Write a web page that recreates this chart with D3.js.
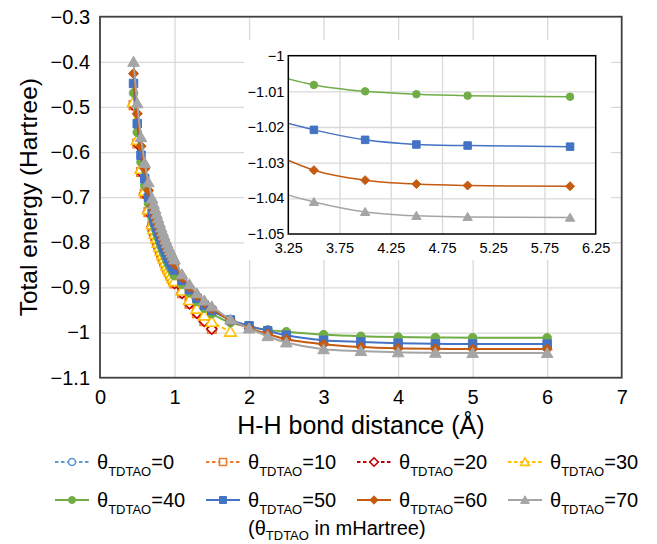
<!DOCTYPE html>
<html><head><meta charset="utf-8">
<script src="https://cdn.jsdelivr.net/npm/d3@7"></script>
<style>
body{margin:0;background:#fff}
svg{display:block}
text{font-family:"Liberation Sans",Arial,sans-serif;fill:#000}
</style>
</head><body>
<svg id="c" width="657" height="544"></svg>
<script>
// ---------- DATA ----------
const distance = [0.45,0.5,0.55,0.6,0.65,
  0.70,0.72,0.74,0.76,0.78,0.80,0.82,0.84,0.86,0.88,0.90,0.92,0.94,0.96,0.98,1.00,
  1.1,1.2,1.3,1.4,1.5,1.75,2,2.25,2.5,3,3.5,4,4.5,5,6];

const theta = [0,10,20,30,40,50,60,70];

const energy0  = [-0.496,-0.581,-0.644,-0.692,-0.733,
  -0.765,-0.776,-0.786,-0.796,-0.806,-0.815,-0.824,-0.833,-0.841,-0.849,-0.857,-0.864,-0.871,-0.878,-0.885,-0.891,
  -0.913,-0.936,-0.957,-0.975,-0.992];
const energy10 = [-0.496,-0.581,-0.644,-0.692,-0.733,
  -0.765,-0.776,-0.786,-0.796,-0.806,-0.815,-0.824,-0.833,-0.841,-0.849,-0.857,-0.864,-0.871,-0.878,-0.885,-0.891,
  -0.913,-0.936,-0.957,-0.975,-0.992];
const energy20 = [-0.496,-0.581,-0.644,-0.692,-0.733,
  -0.765,-0.776,-0.786,-0.796,-0.806,-0.815,-0.824,-0.833,-0.841,-0.849,-0.857,-0.864,-0.871,-0.878,-0.885,-0.891,
  -0.913,-0.936,-0.957,-0.975,-0.992];
const energy30 = [-0.489,-0.573,-0.637,-0.686,-0.727,
  -0.760,-0.771,-0.781,-0.791,-0.801,-0.810,-0.819,-0.828,-0.836,-0.844,-0.852,-0.859,-0.866,-0.873,-0.880,-0.886,
  -0.907,-0.928,-0.947,-0.962,-0.976,-0.998];
const energy40 = [-0.469,-0.556,-0.622,-0.674,-0.714,
  -0.748,-0.759,-0.770,-0.780,-0.790,-0.800,-0.809,-0.818,-0.826,-0.834,-0.842,-0.849,-0.856,-0.862,-0.868,-0.874,
  -0.893,-0.912,-0.931,-0.946,-0.958,-0.978,-0.987,-0.994,-0.998,-1.0045,-1.0082,-1.0100,-1.0108,-1.0112,-1.0115];
const energy50 = [-0.448,-0.537,-0.607,-0.659,-0.700,
  -0.735,-0.746,-0.757,-0.767,-0.777,-0.787,-0.796,-0.805,-0.813,-0.821,-0.829,-0.836,-0.843,-0.849,-0.855,-0.861,
  -0.884,-0.905,-0.924,-0.939,-0.951,-0.972,-0.985,-0.996,-1.006,-1.017,-1.0208,-1.0236,-1.0249,-1.0252,-1.0255];
const energy60 = [-0.426,-0.515,-0.587,-0.637,-0.685,
  -0.720,-0.731,-0.742,-0.752,-0.762,-0.772,-0.781,-0.790,-0.798,-0.806,-0.814,-0.821,-0.828,-0.835,-0.842,-0.848,
  -0.878,-0.899,-0.918,-0.934,-0.947,-0.973,-0.990,-1.003,-1.015,-1.026,-1.0321,-1.0349,-1.0360,-1.0364,-1.0366];
const energy70 = [-0.400,-0.492,-0.567,-0.624,-0.667,
  -0.703,-0.715,-0.726,-0.737,-0.747,-0.757,-0.767,-0.776,-0.785,-0.794,-0.802,-0.810,-0.817,-0.824,-0.831,-0.838,
  -0.871,-0.893,-0.913,-0.929,-0.942,-0.971,-0.991,-1.008,-1.022,-1.037,-1.0410,-1.0438,-1.0449,-1.0452,-1.0454];

const xTicks = [0,1,2,3,4,5,6,7];
const yTicks = [-0.3,-0.4,-0.5,-0.6,-0.7,-0.8,-0.9,-1,-1.1];
const insetXTicks = [3.25,3.75,4.25,4.75,5.25,5.75,6.25];
const insetYTicks = [-1,-1.01,-1.02,-1.03,-1.04,-1.05];

// ---------- STYLES ----------
const seriesStyle = [
  {color:"#5B9BD5", dash:true,  shape:"circle",   filled:false},
  {color:"#ED7D31", dash:true,  shape:"square",   filled:false},
  {color:"#C00000", dash:true,  shape:"diamond",  filled:false},
  {color:"#FFC000", dash:true,  shape:"triangle", filled:false},
  {color:"#70AD47", dash:false, shape:"circle",   filled:true},
  {color:"#4472C4", dash:false, shape:"square",   filled:true},
  {color:"#C55A11", dash:false, shape:"diamond",  filled:true},
  {color:"#A5A5A5", dash:false, shape:"triangle", filled:true}
];
const energies = [energy0,energy10,energy20,energy30,energy40,energy50,energy60,energy70];
const series = theta.map((t,i)=>({theta:t, style:seriesStyle[i],
  pts: energies[i].map((e,j)=>({x:distance[j], y:e}))}));

const FONT = '"Liberation Sans",Arial,sans-serif';
const svg = d3.select("#c");

function markerPath(shape, s){
  const h = s/2;
  if(shape==="square") return `M${-h},${-h}H${h}V${h}H${-h}Z`;
  if(shape==="diamond") return `M0,${-h*1.2}L${h*1.2},0L0,${h*1.2}L${-h*1.2},0Z`;
  if(shape==="triangle") return `M0,${-h*1.05}L${h*1.1},${h*0.85}L${-h*1.1},${h*0.85}Z`;
  return `M${h},0A${h},${h} 0 1,1 ${-h},0A${h},${h} 0 1,1 ${h},0Z`;
}
function drawMarker(g, st, x, y, s){
  g.append("path").attr("d", markerPath(st.shape, s))
    .attr("transform",`translate(${x},${y})`)
    .attr("fill", st.filled ? st.color : "#fff")
    .attr("stroke", st.color)
    .attr("stroke-width", st.filled ? 1 : 1.6);
}

// ---------- MAIN CHART ----------
const L=100, R=621.7, T=16.7, B=377.7;
const X = d3.scaleLinear().domain([0,7]).range([L,R]);
const Y = d3.scaleLinear().domain([-1.1,-0.3]).range([B,T]);

svg.append("g").attr("transform",`translate(0,${B})`)
  .call(d3.axisBottom(X).tickValues(xTicks.slice(1,-1)).tickSize(-(B-T)).tickFormat(""))
  .call(g=>g.select(".domain").remove())
  .call(g=>g.selectAll("line").attr("stroke","#D9D9D9").attr("stroke-width",1.3));
svg.append("g").attr("transform",`translate(${L},0)`)
  .call(d3.axisLeft(Y).tickValues(yTicks.slice(1,-1)).tickSize(-(R-L)).tickFormat(""))
  .call(g=>g.select(".domain").remove())
  .call(g=>g.selectAll("line").attr("stroke","#D9D9D9").attr("stroke-width",1.3));

svg.append("g").attr("transform",`translate(0,${B})`)
  .call(d3.axisBottom(X).tickValues(xTicks).tickSize(0).tickPadding(12).tickFormat(d3.format("~g")))
  .call(g=>g.select(".domain").remove())
  .call(g=>g.selectAll("text").attr("font-size",20).attr("font-family",FONT).attr("fill","#000"));
svg.append("g").attr("transform",`translate(${L},0)`)
  .call(d3.axisLeft(Y).tickValues(yTicks).tickSize(0).tickPadding(10).tickFormat(d3.format("~g")))
  .call(g=>g.select(".domain").remove())
  .call(g=>g.selectAll("text").attr("font-size",20).attr("font-family",FONT).attr("fill","#000"));

const line = d3.line().x(d=>X(d.x)).y(d=>Y(d.y)).curve(d3.curveCatmullRom.alpha(0.5));
const gS = svg.append("g");
series.forEach(s=>{
  const g = gS.append("g");
  g.append("path").attr("d", line(s.pts)).attr("fill","none")
    .attr("stroke", s.style.color).attr("stroke-width",2)
    .attr("stroke-dasharray", s.style.dash ? "4,3" : null);
  const size = s.style.shape==="triangle" ? 10.5 : 8.5;
  s.pts.forEach(p=>drawMarker(g, s.style, X(p.x), Y(p.y), size));
});

svg.append("rect").attr("x",L).attr("y",T).attr("width",R-L).attr("height",B-T)
  .attr("fill","none").attr("stroke","#404040").attr("stroke-width",1.8);

svg.append("text").attr("x",(L+R)/2).attr("y",434).attr("text-anchor","middle")
  .attr("font-size",25).text("H-H bond distance (Å)");
svg.append("text").attr("transform",`translate(37,${(T+B)/2}) rotate(-90)`)
  .attr("text-anchor","middle").attr("font-size",24.5).text("Total energy (Hartree)");

// ---------- INSET ----------
svg.append("rect").attr("x",244).attr("y",40).attr("width",367).attr("height",220).attr("fill","#fff");
const iL=288.3, iR=595.7, iT=55.7, iB=234;
const IX = d3.scaleLinear().domain([3.25,6.25]).range([iL,iR]);
const IY = d3.scaleLinear().domain([-1.05,-1]).range([iB,iT]);
svg.append("defs").append("clipPath").attr("id","ic")
  .append("rect").attr("x",iL).attr("y",iT).attr("width",iR-iL).attr("height",iB-iT);

svg.append("g").attr("transform",`translate(0,${iB})`)
  .call(d3.axisBottom(IX).tickValues(insetXTicks.slice(1,-1)).tickSize(-(iB-iT)).tickFormat(""))
  .call(g=>g.select(".domain").remove())
  .call(g=>g.selectAll("line").attr("stroke","#D9D9D9").attr("stroke-width",1.3));
svg.append("g").attr("transform",`translate(${iL},0)`)
  .call(d3.axisLeft(IY).tickValues(insetYTicks.slice(1,-1)).tickSize(-(iR-iL)).tickFormat(""))
  .call(g=>g.select(".domain").remove())
  .call(g=>g.selectAll("line").attr("stroke","#D9D9D9").attr("stroke-width",1.3));

svg.append("g").attr("transform",`translate(0,${iB})`)
  .call(d3.axisBottom(IX).tickValues(insetXTicks).tickSize(0).tickPadding(9).tickFormat(d3.format(".2f")))
  .call(g=>g.select(".domain").remove())
  .call(g=>g.selectAll("text").attr("font-size",14.5).attr("font-family",FONT).attr("fill","#000"));
svg.append("g").attr("transform",`translate(${iL},0)`)
  .call(d3.axisLeft(IY).tickValues(insetYTicks).tickSize(0).tickPadding(4).tickFormat(d3.format("~g")))
  .call(g=>g.select(".domain").remove())
  .call(g=>g.selectAll("text").attr("font-size",14.5).attr("font-family",FONT).attr("fill","#000"));

const iline = d3.line().x(d=>IX(d.x)).y(d=>IY(d.y)).curve(d3.curveCatmullRom.alpha(0.5));
const gI = svg.append("g").attr("clip-path","url(#ic)");
series.slice(4).forEach(s=>{
  const pts = s.pts.filter(p=>p.x>=3);
  const g = gI.append("g");
  g.append("path").attr("d", iline(pts)).attr("fill","none")
    .attr("stroke", s.style.color).attr("stroke-width",1.5);
  const size = s.style.shape==="triangle" ? 8.5 : 7.5;
  pts.filter(p=>p.x>=3.25).forEach(p=>drawMarker(g, s.style, IX(p.x), IY(p.y), size));
});
svg.append("rect").attr("x",iL).attr("y",iT).attr("width",iR-iL).attr("height",iB-iT)
  .attr("fill","none").attr("stroke","#000").attr("stroke-width",1.5);

// ---------- LEGEND ----------
const colX = [55,206,357,508];
const rowY = [462,500];
series.forEach((s,i)=>{
  const cx = colX[i%4], cy = rowY[Math.floor(i/4)];
  const g = svg.append("g");
  g.append("line").attr("x1",cx).attr("x2",cx+34).attr("y1",cy).attr("y2",cy)
    .attr("stroke",s.style.color).attr("stroke-width",2)
    .attr("stroke-dasharray", s.style.dash ? "3.5,2.5" : null);
  drawMarker(g, s.style, cx+17, cy, s.style.shape==="triangle"?8:7);
  const t = g.append("text").attr("x",cx+42).attr("y",cy+7).attr("font-size",20);
  t.append("tspan").text("θ");
  t.append("tspan").attr("font-size",13).attr("dy",6.5).text("TDTAO");
  t.append("tspan").attr("dy",-6.5).text("=" + s.theta);
});
const t3 = svg.append("text").attr("x",248).attr("y",535).attr("font-size",20);
t3.append("tspan").text("(θ");
t3.append("tspan").attr("font-size",13).attr("dy",5).text("TDTAO");
t3.append("tspan").attr("dy",-5).text(" in mHartree)");
</script>
</body></html>
